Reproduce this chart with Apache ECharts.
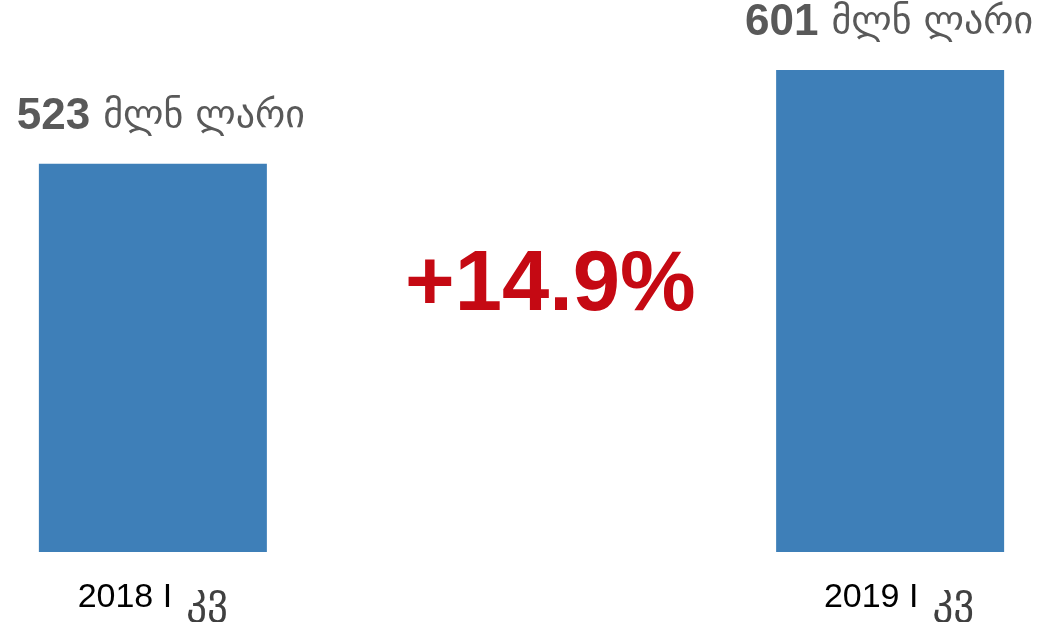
<!DOCTYPE html>
<html>
<head>
<meta charset="utf-8">
<script src="https://cdn.jsdelivr.net/npm/echarts@6/dist/echarts.min.js"></script>
<style>
  html, body { margin: 0; padding: 0; background: #fff; }
  #main { width: 1045px; height: 622px; }
</style>
</head>
<body>
<div id="main"></div>
<script>
var years = ['2018 I', '2019 I'];
var quarterWord = 'კვ';
var values = [523, 601];
var unit = 'მლნ ლარი';

var growth = (values[1] - values[0]) / values[0] * 100;
var growthText = '+' + growth.toFixed(1) + '%';

// two empty slots between the bars give the wide gap of the original
var axisData = [
  years[0], '', '',
  { value: years[1], textStyle: { padding: [0, 0, 0, 18] } }
];
var barData = [
  { value: values[0], label: { offset: [8, 0] } },
  '-', '-',
  { value: values[1], label: { offset: [-1, 0] } }
];

var chart = echarts.init(document.getElementById('main'));

var option = {
  animation: false,
  backgroundColor: '#fff',
  grid: {
    left: 30,
    right: 32,
    top: 70,
    bottom: 70,
    outerBoundsMode: 'none',
    containLabel: false
  },
  xAxis: {
    type: 'category',
    data: axisData,
    axisLine: { show: false, onZero: false },
    axisTick: { show: false },
    axisLabel: {
      interval: 0,
      margin: 20,
      formatter: function (v) {
        if (!v) return '';
        return '{y|' + v + '}{q|' + quarterWord + '}';
      },
      rich: {
        y: {
          fontFamily: '"Liberation Sans", Arial, sans-serif',
          fontSize: 34,
          color: '#000'
        },
        q: {
          fontFamily: '"DejaVu Sans", sans-serif',
          fontSize: 41,
          color: '#404040',
          padding: [10, 0, 0, 14]
        }
      }
    }
  },
  yAxis: {
    type: 'value',
    min: 200,
    max: 601,
    show: false,
    splitLine: { show: false }
  },
  series: [{
    type: 'bar',
    barWidth: 228,
    data: barData,
    itemStyle: { color: '#3E7FB8' },
    label: {
      show: true,
      position: 'top',
      distance: 25,
      formatter: function (p) {
        return '{n|' + p.value + '}{u|' + unit + '}';
      },
      rich: {
        n: {
          fontFamily: '"Liberation Sans", Arial, sans-serif',
          fontWeight: 'bold',
          fontSize: 44,
          color: '#595959'
        },
        u: {
          fontFamily: '"DejaVu Sans", sans-serif',
          fontSize: 38,
          color: '#595959',
          padding: [0, 0, 0, 13]
        }
      }
    }
  }],
  graphic: [{
    type: 'text',
    left: 405,
    top: 244,
    z: 100,
    style: {
      text: growthText,
      fontFamily: '"Liberation Sans", Arial, sans-serif',
      fontWeight: 'bold',
      fontSize: 85,
      fill: '#C50913'
    }
  }]
};

chart.setOption(option);
</script>
</body>
</html>
